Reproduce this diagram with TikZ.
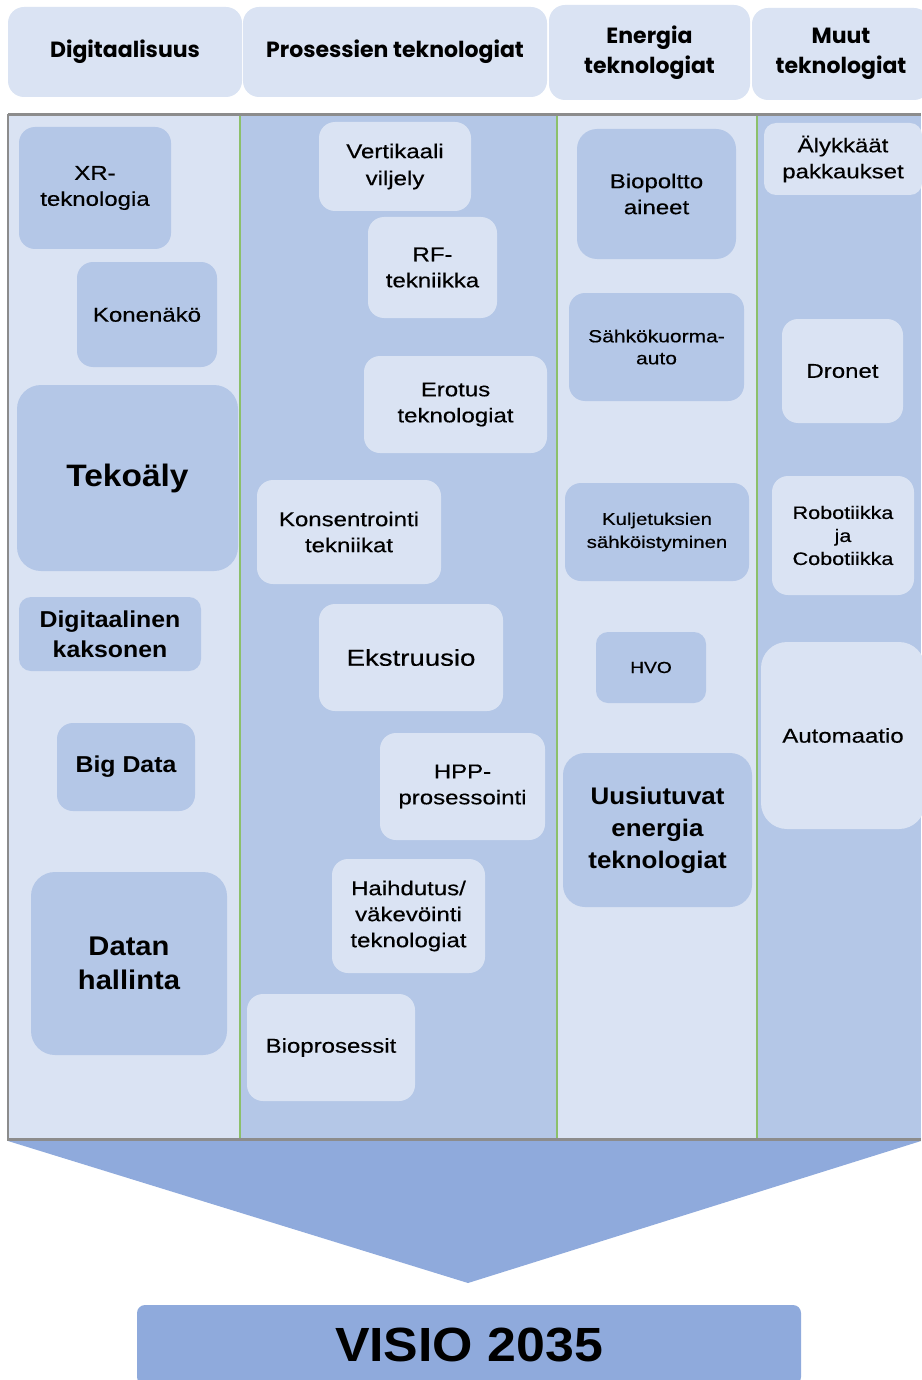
\documentclass[tikz,border=0pt]{standalone}
\usepackage{fontspec}
\setmainfont{Liberation Sans}[UprightFeatures={FakeStretch=1.2, FakeBold=0.4}, BoldFeatures={FakeStretch=1.08}]
\newfontfamily\headfont{Poppins}
\usepackage{tikz}
\usetikzlibrary{positioning}

\definecolor{collight}{HTML}{DAE3F3}
\definecolor{coldark}{HTML}{B4C7E7}
\definecolor{colvisio}{HTML}{8FAADC}
\definecolor{colsep}{HTML}{8CC06A}
\definecolor{colrule}{HTML}{8C8C8C}

\newcommand{\fsz}[2]{\fontsize{#1}{#2}\selectfont}

\tikzset{
  tech/.style={rectangle, rounded corners=16pt, align=center, inner sep=0pt, text=black},
  onlight/.style={tech, fill=coldark},
  ondark/.style={tech, fill=collight},
  head/.style={rectangle, rounded corners=16pt, fill=collight, align=center, inner sep=0pt,
    font=\headfont\bfseries\fsz{22}{30}},
}

\begin{document}
\begin{tikzpicture}[x=1pt,y=-1pt]
    \useasboundingbox (0,0) rectangle (921,1380);

    \fill[collight] (8,115) rectangle (240,1139);
    \fill[coldark] (240,115) rectangle (557,1139);
    \fill[collight] (557,115) rectangle (757,1139);
    \fill[coldark] (757,115) rectangle (921,1139);
    \foreach \sx in {240,557,757}
      \draw[colsep, line width=1.5pt] (\sx,115) -- (\sx,1139);
    \draw[colrule, line width=3pt] (8,115) -- (921,115);
    \draw[colrule, line width=3pt] (7,1139) -- (921,1139);
    \draw[colrule, line width=2pt] (8,114) -- (8,1140);

    \begin{scope}[every node/.style=head]
      \node[minimum width=234pt, minimum height=90pt] (hdig) at (125,52) {Digitaalisuus};
      \node[minimum width=304pt, minimum height=90pt] (hpro) at (395,52) {Prosessien teknologiat};
      \node[minimum width=201pt, minimum height=95pt] (hene) at (649.5,52.5) {Energia\\teknologiat};
      \node[minimum width=178pt, minimum height=92pt] (hmuu) at (841,54) {Muut\\teknologiat};
    \end{scope}

    \begin{scope}[every node/.style=onlight]
      \node[minimum width=152pt, minimum height=122pt, font=\fsz{20}{26}] (xr) at (95,188) {XR-\\teknologia};
      \node[minimum width=140pt, minimum height=105pt, font=\fsz{20}{26}] (kone) at (147,314.5) {Konenäkö};
      \node[minimum width=221pt, minimum height=186pt, rounded corners=24pt, font=\bfseries\fsz{31}{36}] (ai) at (127.5,478) {Tekoäly};
      \node[minimum width=182pt, minimum height=74pt, rounded corners=12pt, font=\bfseries\fsz{23}{30}] (twin) at (110,634) {Digitaalinen\\kaksonen};
      \node[minimum width=138pt, minimum height=88pt, font=\bfseries\fsz{23}{30}] (big) at (126,767) {Big Data};
      \node[minimum width=196pt, minimum height=183pt, rounded corners=24pt, font=\bfseries\fsz{27}{34}] (datan) at (129,963.5) {Datan\\hallinta};
    \end{scope}

    \begin{scope}[every node/.style=ondark]
      \node[minimum width=152pt, minimum height=89pt, font=\fsz{20}{27}] (vert) at (395,166.5) {Vertikaali\\viljely};
      \node[minimum width=129pt, minimum height=101pt, font=\fsz{20}{26}] (rf) at (432.5,267.5) {RF-\\tekniikka};
      \node[minimum width=183pt, minimum height=97pt, font=\fsz{20}{26}] (erot) at (455.5,404.5) {Erotus\\teknologiat};
      \node[minimum width=184pt, minimum height=104pt, font=\fsz{20}{26}] (kons) at (349,532) {Konsentrointi\\tekniikat};
      \node[minimum width=184pt, minimum height=107pt, font=\fsz{23}{26}] (ekst) at (411,657.5) {Ekstruusio};
      \node[minimum width=165pt, minimum height=107pt, font=\fsz{20}{26}] (hpp) at (462.5,786.5) {HPP-\\prosessointi};
      \node[minimum width=153pt, minimum height=114pt, font=\fsz{20}{26}] (haih) at (408.5,916) {Haihdutus/\\väkevöinti\\teknologiat};
      \node[minimum width=168pt, minimum height=107pt, font=\fsz{20}{26}] (biopro) at (331,1047.5) {Bioprosessit};
    \end{scope}

    \begin{scope}[every node/.style=onlight]
      \node[minimum width=159pt, minimum height=130pt, rounded corners=20pt, font=\fsz{20}{26}] (biopol) at (656.5,194) {Biopoltto\\aineet};
      \node[minimum width=175pt, minimum height=108pt, font=\fsz{17.5}{22}] (sahko) at (656.5,347) {Sähkökuorma-\\auto};
      \node[minimum width=184pt, minimum height=98pt, font=\fsz{17}{23}] (kulj) at (657,532) {Kuljetuksien\\sähköistyminen};
      \node[minimum width=110pt, minimum height=71pt, rounded corners=12pt, font=\fsz{16}{20}] (hvo) at (651,667.5) {HVO};
      \node[minimum width=189pt, minimum height=154pt, rounded corners=22pt, font=\bfseries\fsz{24}{32}] (uusi) at (657.5,830) {Uusiutuvat\\energia\\teknologiat};
    \end{scope}

    \begin{scope}[every node/.style=ondark]
      \node[minimum width=158pt, minimum height=72pt, rounded corners=12pt, font=\fsz{20}{26}] (aly) at (843,159) {Älykkäät\\pakkaukset};
      \node[minimum width=121pt, minimum height=104pt, font=\fsz{20}{26}] (dron) at (842.5,371) {Dronet};
      \node[minimum width=142pt, minimum height=119pt, font=\fsz{18}{23}] (robo) at (843,535.5) {Robotiikka\\ja\\Cobotiikka};
      \node[minimum width=164pt, minimum height=187pt, rounded corners=26pt, font=\fsz{20}{26}] (auto) at (843,735.5) {Automaatio};
    \end{scope}

    \fill[colvisio] (8,1141) -- (921,1141) -- (468,1283) -- cycle;
    \node[rectangle, rounded corners=8pt, fill=colvisio, minimum width=664pt, minimum height=80pt,
      font=\bfseries\fsz{48}{48}] (visio) at (469,1345) {VISIO 2035};
\end{tikzpicture}
\end{document}
